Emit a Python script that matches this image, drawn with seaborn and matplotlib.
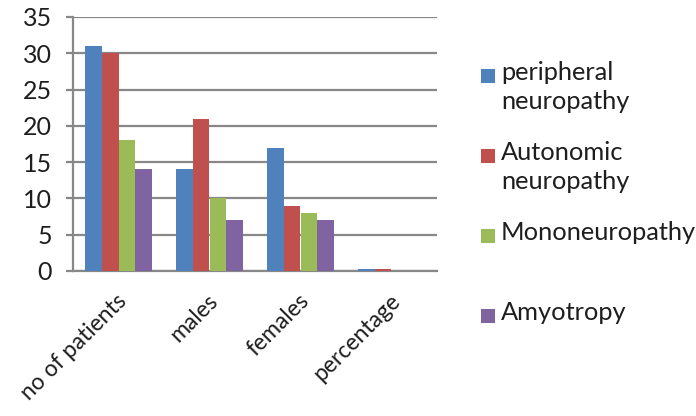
import matplotlib
matplotlib.use("Agg")
import matplotlib.pyplot as plt
from matplotlib.patches import Rectangle
from matplotlib.transforms import ScaledTranslation
import seaborn as sns
import pandas as pd

categories = ["no of patients", "males", "females", "percentage"]
series_names = ["peripheral neuropathy", "Autonomic neuropathy", "Mononeuropathy", "Amyotropy"]
legend_labels = ["peripheral\nneuropathy", "Autonomic\nneuropathy", "Mononeuropathy", "Amyotropy"]
peripheral = [31, 14, 17, 0.3]
autonomic = [30, 21, 9, 0.3]
mono = [18, 10, 8, 0]
amyotropy = [14, 7, 7, 0]
colors = ["#4F81BD", "#C0504D", "#9BBB59", "#8064A2"]
y_ticks = [0, 5, 10, 15, 20, 25, 30, 35]

rows = []
for name, vals in zip(series_names, [peripheral, autonomic, mono, amyotropy]):
    for cat, v in zip(categories, vals):
        rows.append({"category": cat, "series": name, "value": v})
df = pd.DataFrame(rows)

sns.set_style("white")
plt.rcParams["font.family"] = ["Lato", "DejaVu Sans"]

fig = plt.figure(figsize=(6.96, 4.16), dpi=100)
ax = fig.add_axes([73 / 696, 1 - 271 / 416, (437 - 73) / 696, (271 - 17) / 416])

grid_col = "#888888"
text_col = "#1E1E1E"
sns.barplot(data=df, x="category", y="value", hue="series", order=categories,
            hue_order=series_names, palette=colors, width=0.727, gap=0,
            saturation=1, edgecolor="none", linewidth=0, ax=ax, legend=False,
            zorder=3)

ax.set_xlim(-0.5, 3.5)
ax.set_ylim(0, 35)
ax.set_yticks(y_ticks)
ax.set_yticklabels([str(t) for t in y_ticks])
ax.yaxis.grid(True, color=grid_col, linewidth=1.6, zorder=0)
ax.set_axisbelow(True)
ax.set_xlabel("")
ax.set_ylabel("")

for side in ["top", "right"]:
    ax.spines[side].set_visible(False)
for side in ["left", "bottom"]:
    ax.spines[side].set_color(grid_col)
    ax.spines[side].set_linewidth(1.6)

# category labels at the group centres, tick marks on the group boundaries
ax.set_xticks(range(len(categories)))
ax.set_xticklabels(categories, rotation=45, ha="right", va="center",
                   rotation_mode="anchor", fontsize=16.5, color=text_col)
ax.set_xticks([-0.5, 0.5, 1.5, 2.5, 3.5], minor=True)
ax.tick_params(axis="x", which="major", length=0, pad=19)
ax.tick_params(axis="x", which="minor", length=6, width=1.6, color=grid_col, direction="out")
ax.tick_params(axis="y", length=5, width=1.6, color=grid_col, direction="out",
               labelsize=18, labelcolor=text_col, pad=10, left=True)
offset = ScaledTranslation(5 / 100, 0, fig.dpi_scale_trans)
for lbl in ax.get_xticklabels():
    lbl.set_transform(lbl.get_transform() + offset)

# legend drawn at the right with the swatch beside the first text line
legend_tops = [61, 141, 221, 301]
for col, lab, top in zip(colors, legend_labels, legend_tops):
    fig.patches.append(Rectangle((481 / 696, 1 - (top + 22) / 416), 14 / 696, 14 / 416,
                                 transform=fig.transFigure, facecolor=col,
                                 edgecolor="none"))
    fig.text(501 / 696, 1 - top / 416, lab, ha="left", va="top", fontsize=18.3,
             color=text_col, linespacing=1.3)

fig.savefig("out.png", dpi=100, facecolor="white")
